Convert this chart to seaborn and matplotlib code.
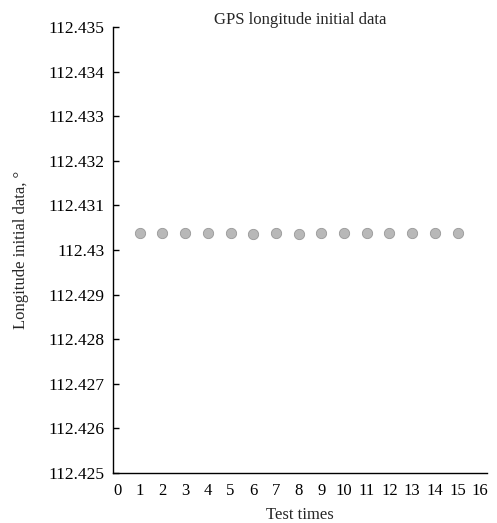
import matplotlib
matplotlib.use("Agg")
import matplotlib.pyplot as plt
import seaborn as sns
import pandas as pd
from matplotlib.ticker import FuncFormatter

test_times = list(range(1, 16))
longitude = [112.43038, 112.43037, 112.43037, 112.43037, 112.43037,
             112.43036, 112.43037, 112.43035, 112.43038, 112.43038,
             112.43039, 112.43038, 112.43037, 112.43037, 112.43037]
x_ticks = list(range(0, 17))
y_ticks = [112.425, 112.426, 112.427, 112.428, 112.429, 112.43,
           112.431, 112.432, 112.433, 112.434, 112.435]

df = pd.DataFrame({"Test times": test_times, "Longitude": longitude})

sns.set_style("white")
plt.rcParams["font.family"] = ["Liberation Serif", "DejaVu Serif"]

fig = plt.figure(figsize=(4.97, 5.23), dpi=100)
ax = fig.add_axes([0.2274, 0.0956, 0.7526, 0.8528])

sns.scatterplot(data=df, x="Test times", y="Longitude", ax=ax,
                s=55, color="#b8b8b8", edgecolor="#989898", linewidth=0.6)

ax.set_xlim(-0.18, 16.3)
ax.set_ylim(112.425, 112.435)
ax.set_xticks(x_ticks)
ax.set_yticks(y_ticks)
ax.yaxis.set_major_formatter(FuncFormatter(lambda v, p: f"{v:.6g}"))

for s in ["top", "right"]:
    ax.spines[s].set_visible(False)
for s in ["left", "bottom"]:
    ax.spines[s].set_color("black")
    ax.spines[s].set_linewidth(1.0)

ax.tick_params(axis="y", direction="in", length=4, width=1, labelsize=12.5,
               left=True, pad=6, colors="black")
ax.tick_params(axis="x", length=0, labelsize=12, pad=7, colors="black")

ax.set_xlabel("Test times", fontsize=12, labelpad=6)
ax.set_ylabel("Longitude initial data, °", fontsize=12, labelpad=14)
ax.set_title("GPS longitude initial data", fontsize=12, pad=2)

fig.savefig("out.png", dpi=100)
